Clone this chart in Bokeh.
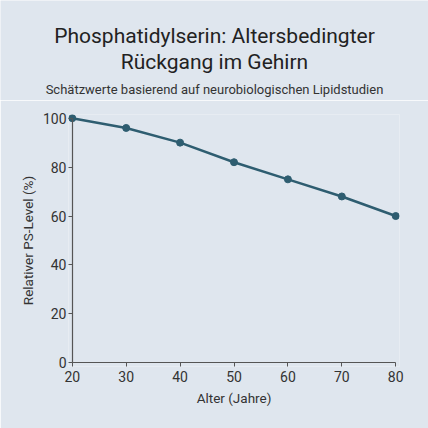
from bokeh.plotting import figure
from bokeh.models import FixedTicker, LinearAxis
from bokeh.layouts import column
from bokeh.core.properties import value
from bokeh.embed import file_html
from bokeh.resources import INLINE

ages = [20, 30, 40, 50, 60, 70, 80]
ps_level = [100, 96, 90, 82, 75, 68, 60]
x_ticks = [20, 30, 40, 50, 60, 70, 80]
y_ticks = [0, 20, 40, 60, 80, 100]
title_lines = ["Phosphatidylserin: Altersbedingter", "Rückgang im Gehirn"]
subtitle = "Schätzwerte basierend auf neurobiologischen Lipidstudien"

BG = "#dfe6ee"
LINE = "#2e5d70"
FONT = "Roboto"
W = 428
HEAD_H = 100
MAIN_H = 328

# ---- header figure (titles) ----
head = figure(width=W, height=HEAD_H, output_backend="svg", toolbar_location=None,
              x_range=(0, W), y_range=(HEAD_H, 0),
              background_fill_color=BG, border_fill_color=BG,
              min_border=0, frame_align=False)
head.axis.visible = False
head.grid.visible = False
head.outline_line_color = None
head.text(x=[W / 2, W / 2], y=[35, 61], text=title_lines, text_align="center",
          text_baseline="middle", text_font=value(FONT), text_font_size="21px",
          text_color="#222222")
head.text(x=[W / 2], y=[89], text=[subtitle], text_align="center",
          text_baseline="middle", text_font=value(FONT), text_font_size="13px",
          text_color="#333333")

# ---- main chart ----
p = figure(width=W, height=MAIN_H, output_backend="svg", toolbar_location=None,
           x_range=(19.3, 80.7), y_range=(-1.5, 101.5),
           background_fill_color=BG, border_fill_color=BG, frame_align=False,
           min_border_left=68, min_border_right=29, min_border_bottom=62, min_border_top=14)
p.outline_line_color = None
p.grid.visible = False
p.title.visible = False

p.line(ages, ps_level, line_color=LINE, line_width=2.5)
p.scatter(ages, ps_level, size=7, fill_color=LINE, line_color=LINE)

# label axes at frame edges (no lines, no ticks)
for ax in (p.xaxis, p.yaxis):
    ax.axis_line_color = None
    ax.major_tick_line_color = None
    ax.minor_tick_line_color = None
    ax.major_tick_out = 0
    ax.major_tick_in = 0
    ax.major_label_text_font = FONT
    ax.major_label_text_font_size = "14px"
    ax.major_label_text_color = "#333333"
    ax.axis_label_text_font = FONT
    ax.axis_label_text_font_size = "13.5px"
    ax.axis_label_text_font_style = "normal"
    ax.axis_label_text_color = "#333333"
p.xaxis.ticker = FixedTicker(ticks=x_ticks)
p.yaxis.ticker = FixedTicker(ticks=y_ticks)
p.xaxis.major_label_standoff = 4
p.yaxis.major_label_standoff = 2
p.xaxis.axis_label = "Alter (Jahre)"
p.yaxis.axis_label = "Relativer PS-Level (%)"
p.xaxis.axis_label_standoff = 5
p.yaxis.axis_label_standoff = 4

# line/tick axes at the data origin
xline = LinearAxis(ticker=FixedTicker(ticks=x_ticks), bounds=(20, 80), fixed_location=0)
yline = LinearAxis(ticker=FixedTicker(ticks=y_ticks), bounds=(0, 100), fixed_location=20)
for ax in (xline, yline):
    ax.axis_line_color = "#555555"
    ax.axis_line_width = 1.2
    ax.major_tick_line_color = "#555555"
    ax.major_tick_out = 5
    ax.major_tick_in = 0
    ax.minor_tick_line_color = None
    ax.major_label_text_alpha = 0
    ax.major_label_text_font_size = "1px"
p.add_layout(xline, "below")
p.add_layout(yline, "left")

layout = column(head, p, spacing=0)
open("out.html", "w").write(file_html(layout, INLINE))
